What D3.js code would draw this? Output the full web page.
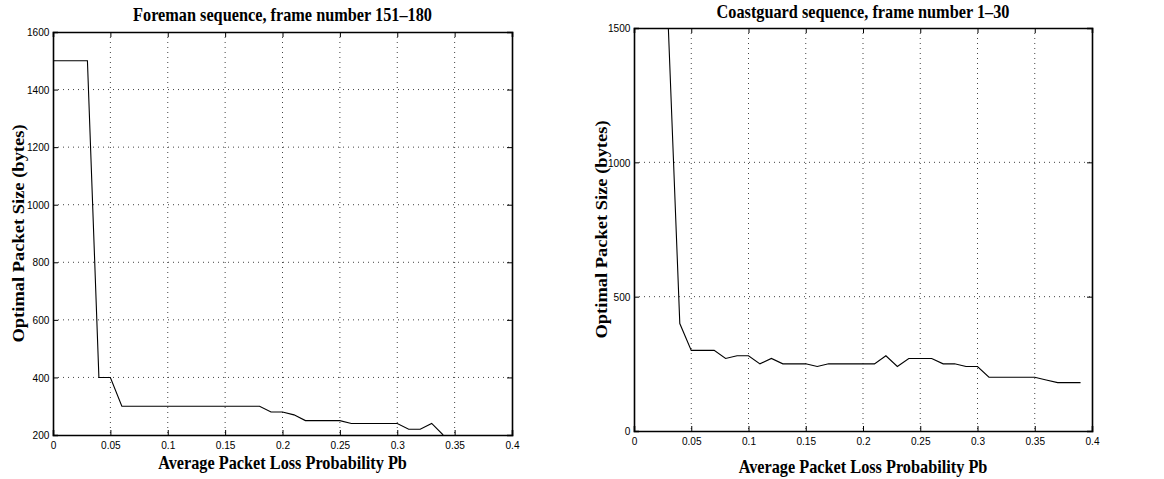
<!doctype html>
<html lang="en">
<head>
<meta charset="utf-8">
<script src="https://cdn.jsdelivr.net/npm/d3@7"></script>
<style>
  body { margin: 0; background: #fff; }
  .tick text { font-family: "Liberation Sans", Arial, sans-serif; font-size: 11.5px; fill: #000; }
  .title, .xlabel, .ylabel { font-family: "Liberation Serif", "Times New Roman", serif; font-weight: bold; fill: #000; }
  .grid line { stroke: #444; stroke-dasharray: 1,4; stroke-width: 1; }
</style>
</head>
<body>
<svg id="chart" width="1164" height="479"></svg>
<script>
// Foreman sequence, frames 151-180
var foremanPb   = [0, 0.01, 0.02, 0.03, 0.04, 0.05, 0.06, 0.07, 0.08, 0.09, 0.10, 0.11, 0.12, 0.13, 0.14, 0.15, 0.16, 0.17, 0.18,
                   0.19, 0.20, 0.21, 0.22, 0.23, 0.24, 0.25, 0.26, 0.27, 0.28, 0.29, 0.30, 0.31, 0.32, 0.33, 0.34];
var foremanSize = [1500, 1500, 1500, 1500, 400, 400, 300, 300, 300, 300, 300, 300, 300, 300, 300, 300, 300, 300, 300,
                   280, 280, 270, 250, 250, 250, 250, 240, 240, 240, 240, 240, 220, 220, 240, 200];

// Coastguard sequence, frames 1-30
var coastPb   = [0, 0.01, 0.02, 0.03, 0.04, 0.05, 0.06, 0.07, 0.08, 0.09, 0.10, 0.11, 0.12, 0.13, 0.14, 0.15, 0.16, 0.17, 0.18, 0.19,
                 0.20, 0.21, 0.22, 0.23, 0.24, 0.25, 0.26, 0.27, 0.28, 0.29, 0.30, 0.31, 0.32, 0.33, 0.34, 0.35, 0.36, 0.37, 0.38, 0.39];
var coastSize = [1500, 1500, 1500, 1500, 400, 300, 300, 300, 270, 280, 280, 250, 270, 250, 250, 250, 240, 250, 250, 250,
                 250, 250, 280, 240, 270, 270, 270, 250, 250, 240, 240, 200, 200, 200, 200, 200, 190, 180, 180, 180];

var xTicks = [0, 0.05, 0.1, 0.15, 0.2, 0.25, 0.3, 0.35, 0.4];
var foremanYTicks = [200, 400, 600, 800, 1000, 1200, 1400, 1600];
var coastYTicks = [0, 500, 1000, 1500];

// the original figure is squeezed a bit horizontally
var squeeze = 0.88;

var svg = d3.select("#chart");

function drawPanel(opt) {
    var x = d3.scaleLinear().domain([0, 0.4]).range([opt.left, opt.right]);
    var y = d3.scaleLinear().domain(opt.ydom).range([opt.bottom, opt.top]);
    var g = svg.append("g");
    var w = opt.right - opt.left, h = opt.bottom - opt.top;

    // dotted grid
    var grid = g.append("g").attr("class", "grid");
    grid.selectAll(".gx").data(xTicks.slice(1, -1)).enter().append("line")
        .attr("x1", function (d) { return x(d); }).attr("x2", function (d) { return x(d); })
        .attr("y1", opt.top).attr("y2", opt.bottom);
    grid.selectAll(".gy").data(opt.yticks.slice(1, -1)).enter().append("line")
        .attr("y1", function (d) { return y(d); }).attr("y2", function (d) { return y(d); })
        .attr("x1", opt.left).attr("x2", opt.right);

    // clip the curve to the axes box
    svg.append("clipPath").attr("id", opt.id + "-clip").append("rect")
        .attr("x", opt.left).attr("y", opt.top).attr("width", w).attr("height", h);

    var line = d3.line().x(function (d) { return x(d[0]); }).y(function (d) { return y(d[1]); });
    g.append("path")
        .datum(d3.zip(opt.xs, opt.ys))
        .attr("clip-path", "url(#" + opt.id + "-clip)")
        .attr("fill", "none").attr("stroke", "#000").attr("stroke-width", 1.1)
        .attr("d", line);

    // axes, ticks inward (matlab style)
    g.append("g").attr("transform", "translate(0," + opt.bottom + ")")
        .call(d3.axisBottom(x).tickValues(xTicks).tickSize(-5).tickPadding(6).tickFormat(d3.format("")));
    g.append("g").attr("transform", "translate(0," + opt.top + ")")
        .call(d3.axisTop(x).tickValues(xTicks).tickSize(-5).tickFormat(""));
    g.append("g").attr("transform", "translate(" + opt.left + ",0)")
        .call(d3.axisLeft(y).tickValues(opt.yticks).tickSize(-5).tickPadding(4).tickFormat(d3.format("d")));
    g.append("g").attr("transform", "translate(" + opt.right + ",0)")
        .call(d3.axisRight(y).tickValues(opt.yticks).tickSize(-5).tickFormat(""));
    g.selectAll(".domain").attr("stroke", "#000").attr("stroke-width", 1.6);
    g.selectAll(".tick line").attr("stroke", "#000");
    g.selectAll(".tick text").attr("transform", "scale(" + squeeze + ",1)");

    var cx = (opt.left + opt.right) / 2;
    g.append("text").attr("class", "title")
        .attr("transform", "translate(" + cx + "," + opt.titleY + ") scale(" + squeeze + ",1)")
        .attr("text-anchor", "middle").style("font-size", "18.5px")
        .text(opt.title);
    g.append("text").attr("class", "xlabel")
        .attr("transform", "translate(" + cx + "," + opt.xlabelY + ") scale(" + squeeze + ",1)")
        .attr("text-anchor", "middle").style("font-size", "18.5px")
        .text("Average Packet Loss Probability Pb");
    g.append("text").attr("class", "ylabel")
        .attr("transform", "translate(" + opt.ylabelX + "," + (opt.top + opt.bottom) / 2 + ") rotate(-90) scale(1," + squeeze + ")")
        .attr("text-anchor", "middle").style("font-size", "18.5px")
        .text("Optimal Packet Size (bytes)");
}

drawPanel({
    id: "foreman", left: 53, right: 512, top: 32, bottom: 435,
    ydom: [200, 1600], yticks: foremanYTicks,
    xs: foremanPb, ys: foremanSize,
    title: "Foreman sequence, frame number 151\u2013180",
    titleY: 21, xlabelY: 469, ylabelX: 24
});

drawPanel({
    id: "coast", left: 634, right: 1092, top: 28, bottom: 431,
    ydom: [0, 1500], yticks: coastYTicks,
    xs: coastPb, ys: coastSize,
    title: "Coastguard sequence, frame number 1\u201330",
    titleY: 18, xlabelY: 473, ylabelX: 607
});
</script>
</body>
</html>
